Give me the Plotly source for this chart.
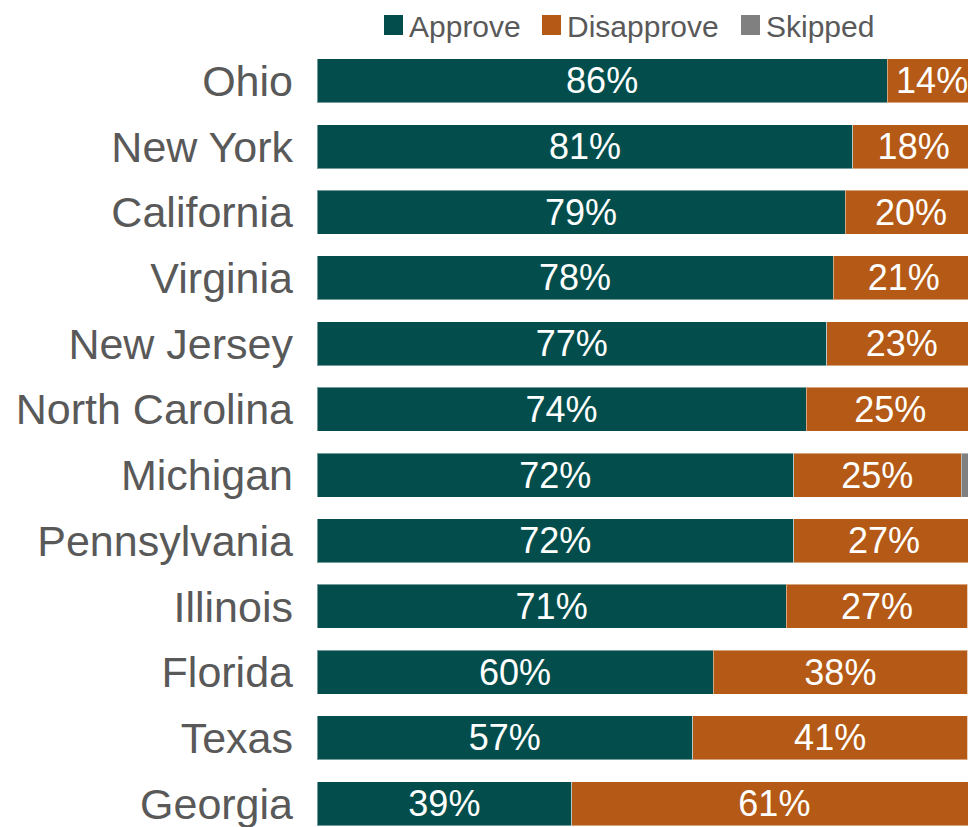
import plotly.graph_objects as go

states = ["Ohio", "New York", "California", "Virginia", "New Jersey", "North Carolina",
          "Michigan", "Pennsylvania", "Illinois", "Florida", "Texas", "Georgia"]
approve = [86.4, 81.2, 80.0, 78.2, 77.2, 74.1, 72.2, 72.2, 71.1, 60.0, 56.9, 38.6]
disapprove = [13.6, 18.4, 20.0, 21.4, 22.8, 25.5, 25.4, 27.4, 27.5, 38.6, 41.7, 61.4]
skipped = [0.0, 0.4, 0.0, 0.4, 0.0, 0.4, 2.4, 0.4, 1.4, 1.4, 1.4, 0.0]
approve_labels = [86, 81, 79, 78, 77, 74, 72, 72, 71, 60, 57, 39]
disapprove_labels = [14, 18, 20, 21, 23, 25, 25, 27, 27, 38, 41, 61]

series_names = ["Approve", "Disapprove", "Skipped"]
colors = ["#034E4C", "#B45A16", "#808080"]

FONT = "Liberation Sans, Arial, sans-serif"

W, H = 960, 819
ML, MT = 309, 40
PW = W - ML
PX_PER_PCT = 6.6

fig = go.Figure()
series = [
    (approve, [f"{v}%" for v in approve_labels]),
    (disapprove, [f"{v}%" for v in disapprove_labels]),
    (skipped, None),
]
for (vals, texts), name, col in zip(series, series_names, colors):
    fig.add_trace(go.Bar(
        y=states, x=vals, orientation="h", name=name,
        marker=dict(color=col, line=dict(color="rgba(255,255,255,0.45)", width=1)),
        text=texts, textposition="inside" if texts else "none",
        insidetextanchor="middle", textangle=0,
        textfont=dict(color="white", size=36, family=FONT),
        width=0.67, showlegend=False, hoverinfo="skip",
    ))

# legend (squares + labels) placed above the plot area, in figure pixels
legend_left = [376, 534, 733]
for n, c, lx in zip(series_names, colors, legend_left):
    fig.add_shape(
        type="rect", xref="paper", yref="paper",
        xsizemode="pixel", ysizemode="pixel",
        xanchor=(lx - ML) / PW, yanchor=1.0,
        x0=0, x1=19, y0=MT - 7, y1=MT - 27,
        fillcolor=c, line=dict(width=0),
    )
    fig.add_annotation(
        text=n, xref="paper", yref="paper", x=(lx + 24 - ML) / PW, y=1.0,
        xanchor="left", yanchor="top", yshift=MT - 0.5, showarrow=False,
        borderpad=0,
        font=dict(size=30, color="#595959", family=FONT),
    )

fig.update_layout(
    width=W, height=H,
    margin=dict(l=ML, r=0, t=MT, b=0),
    barmode="stack",
    plot_bgcolor="white", paper_bgcolor="white",
    uniformtext=dict(minsize=36, mode="show"),
    xaxis=dict(range=[0, PW / PX_PER_PCT], visible=False, fixedrange=True),
    yaxis=dict(
        categoryorder="array", categoryarray=states,
        range=[11.357, -0.5], showgrid=False, zeroline=False, showline=False,
        ticks="", ticklabelstandoff=23,
        tickfont=dict(size=43, color="#595959", family=FONT),
    ),
    font=dict(family=FONT),
)

fig.write_html("out.html")
